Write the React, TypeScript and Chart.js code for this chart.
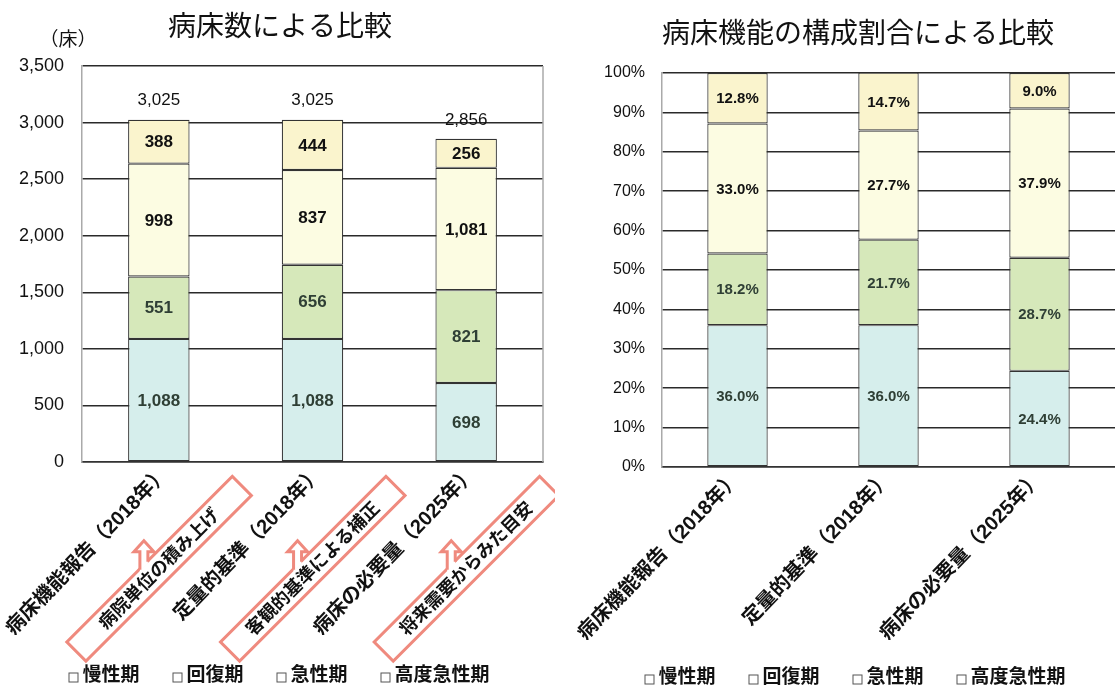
import React, { useEffect, useRef } from 'react';
import { Chart, registerables } from 'chart.js';

Chart.register(...registerables);

const FONT = "'Liberation Sans', 'Noto Sans CJK JP', sans-serif";

// ---- data ----
const seriesNames = ['慢性期', '回復期', '急性期', '高度急性期'];
const seriesColors = ['#d6eeec', '#d6e8ba', '#fcfce2', '#faf4cd'];
const segLabelColors = ['#2f3f35', '#2f3f35', '#111111', '#111111'];

const bedCategories = ['病床機能報告（2018年）', '定量的基準（2018年）', '病床の必要量（2025年）'];
const bedsChronic = [1088, 1088, 698];
const bedsRecovery = [551, 656, 821];
const bedsAcute = [998, 837, 1081];
const bedsHighAcute = [388, 444, 256];
const bedCallouts = ['病院単位の積み上げ', '客観的基準による補正', '将来需要からみた目安'];

const shareCategories = ['病床機能報告（2018年）', '定量的基準（2018年）', '病床の必要量（2025年）'];
const shareChronic = [36.0, 36.0, 24.4];
const shareRecovery = [18.2, 21.7, 28.7];
const shareAcute = [33.0, 27.7, 37.9];
const shareHighAcute = [12.8, 14.7, 9.0];

const leftTitle = '病床数による比較';
const leftUnit = '（床）';
const rightTitle = '病床機能の構成割合による比較';

// ---- helpers ----
const fmtNum = (v: number) => Number(v).toLocaleString('en-US');
const fmtPct = (v: number) => Number(v).toFixed(1) + '%';

const makeDatasets = (arrays: number[][]) =>
  arrays.map((d, i) => ({
    label: seriesNames[i],
    data: d,
    backgroundColor: seriesColors[i],
    borderColor: '#333333',
    borderWidth: 1.2,
    borderSkipped: false,
    barPercentage: 0.4,
    categoryPercentage: 1,
    stack: 's',
  }));

const segmentLabelsPlugin = (fmt: (v: number) => string, font: string) => ({
  id: 'segLabels',
  afterDatasetsDraw(chart: any) {
    const ctx = chart.ctx;
    ctx.save();
    ctx.textAlign = 'center';
    ctx.textBaseline = 'middle';
    ctx.font = font;
    chart.data.datasets.forEach((ds: any, di: number) => {
      const meta = chart.getDatasetMeta(di);
      meta.data.forEach((bar: any, j: number) => {
        const p = bar.getProps(['x', 'y', 'base'], true);
        ctx.fillStyle = segLabelColors[di];
        ctx.fillText(fmt(ds.data[j]), p.x, (p.y + p.base) / 2 + 1);
      });
    });
    ctx.restore();
  },
});

const totalsPlugin = {
  id: 'totals',
  afterDatasetsDraw(chart: any) {
    const ctx = chart.ctx;
    const n = chart.data.datasets.length;
    const topMeta = chart.getDatasetMeta(n - 1);
    ctx.save();
    ctx.textAlign = 'center';
    ctx.textBaseline = 'middle';
    ctx.font = `17px ${FONT}`;
    ctx.fillStyle = '#111';
    topMeta.data.forEach((bar: any, j: number) => {
      let sum = 0;
      chart.data.datasets.forEach((ds: any) => (sum += ds.data[j]));
      const p = bar.getProps(['x', 'y'], true);
      ctx.fillText(fmtNum(sum), p.x, p.y - 19);
    });
    ctx.restore();
  },
};

const textPlugin = (items: { text: string; x: number; y: number; font: string }[]) => ({
  id: 'texts',
  afterDraw(chart: any) {
    const ctx = chart.ctx;
    ctx.save();
    ctx.fillStyle = '#111';
    ctx.textAlign = 'center';
    ctx.textBaseline = 'middle';
    items.forEach((it) => {
      ctx.font = it.font;
      ctx.fillText(it.text, it.x, it.y);
    });
    ctx.restore();
  },
});

const legendPlugin = (cx: number, cy: number) => ({
  id: 'legendDraw',
  afterDraw(chart: any) {
    const ctx = chart.ctx;
    ctx.save();
    ctx.font = `bold 19px ${FONT}`;
    const box = 9;
    const gapBoxText = 5;
    const gapItems = 33;
    const widths = seriesNames.map((s) => box + gapBoxText + ctx.measureText(s).width);
    const total = widths.reduce((a, b) => a + b, 0) + gapItems * (seriesNames.length - 1);
    let x = cx - total / 2;
    ctx.textBaseline = 'middle';
    ctx.textAlign = 'left';
    seriesNames.forEach((s, i) => {
      ctx.fillStyle = '#ffffff';
      ctx.fillRect(x + 0.5, cy - box / 2 + 1.5, box, box);
      ctx.strokeStyle = '#555';
      ctx.lineWidth = 1;
      ctx.strokeRect(x + 0.5, cy - box / 2 + 1.5, box, box);
      ctx.fillStyle = '#111';
      ctx.fillText(s, x + box + gapBoxText, cy);
      x += widths[i] + gapItems;
    });
    ctx.restore();
  },
});

const rightEdgePlugin = {
  id: 'rightEdge',
  afterDraw(chart: any) {
    const { ctx, chartArea } = chart;
    ctx.save();
    ctx.strokeStyle = '#aaaaaa';
    ctx.lineWidth = 1.5;
    ctx.beginPath();
    ctx.moveTo(chartArea.right, chartArea.top);
    ctx.lineTo(chartArea.right, chartArea.bottom);
    ctx.stroke();
    ctx.restore();
  },
};

const calloutPlugin = {
  id: 'callouts',
  afterDraw(chart: any) {
    const { ctx, chartArea } = chart;
    const xs = chart.scales.x;
    const ang = (45 * Math.PI) / 180;
    const cos = Math.cos(ang);
    const sin = Math.sin(ang);
    const h = 27;
    const L = 234;
    ctx.save();
    ctx.font = `bold 18px ${FONT}`;
    bedCallouts.forEach((txt, i) => {
      const ax = xs.getPixelForValue(i) + 83;
      const ay = chartArea.bottom + 24;
      const toS = (lx: number, ly: number) => [ax + lx * cos + ly * sin, ay - lx * sin + ly * cos];
      ctx.save();
      ctx.translate(ax, ay);
      ctx.rotate(-ang);
      ctx.fillStyle = '#ffffff';
      ctx.fillRect(-L, -h / 2, L, h);
      ctx.strokeStyle = '#ef8a7e';
      ctx.lineWidth = 3;
      ctx.strokeRect(-L, -h / 2, L, h);
      ctx.restore();
      // arrow pointing up from the upper edge
      const [bx, by] = toS(-125, -h / 2);
      const sw = 4;
      const hw = 10;
      const t = Math.tan(ang);
      const shaftTop = by - 13;
      const tipY = by - 24;
      ctx.beginPath();
      ctx.moveTo(bx - sw, by + sw * t + 3);
      ctx.lineTo(bx - sw, shaftTop);
      ctx.lineTo(bx - hw, shaftTop);
      ctx.lineTo(bx, tipY);
      ctx.lineTo(bx + hw, shaftTop);
      ctx.lineTo(bx + sw, shaftTop);
      ctx.lineTo(bx + sw, by - sw * t + 3);
      ctx.closePath();
      ctx.fillStyle = '#ffffff';
      ctx.fill();
      ctx.beginPath();
      ctx.moveTo(bx - sw, by + sw * t + 1);
      ctx.lineTo(bx - sw, shaftTop);
      ctx.lineTo(bx - hw, shaftTop);
      ctx.lineTo(bx, tipY);
      ctx.lineTo(bx + hw, shaftTop);
      ctx.lineTo(bx + sw, shaftTop);
      ctx.lineTo(bx + sw, by - sw * t + 1);
      ctx.strokeStyle = '#ef8a7e';
      ctx.lineWidth = 3;
      ctx.lineJoin = 'miter';
      ctx.stroke();
      // text
      ctx.save();
      ctx.translate(ax, ay);
      ctx.rotate(-ang);
      ctx.fillStyle = '#111';
      ctx.textAlign = 'center';
      ctx.textBaseline = 'middle';
      ctx.fillText(txt, -L / 2, 1);
      ctx.restore();
    });
    ctx.restore();
  },
};

const xTicks = (offset: number) => ({
  color: '#111',
  font: { family: FONT, size: 20, weight: 'bold' as const },
  minRotation: 46,
  maxRotation: 46,
  autoSkip: false,
  padding: 0,
  labelOffset: offset,
});

const xFit = (height: number) => (s: any) => {
  s.height = height;
  s.paddingLeft = 0;
  s.paddingRight = 0;
};

function leftConfig(): any {
  return {
    type: 'bar',
    data: {
      labels: bedCategories,
      datasets: makeDatasets([bedsChronic, bedsRecovery, bedsAcute, bedsHighAcute]),
    },
    options: {
      animation: false,
      responsive: true,
      maintainAspectRatio: false,
      layout: { padding: { top: 66, right: 12, left: 0, bottom: 0 } },
      plugins: { legend: { display: false }, tooltip: { enabled: false }, title: { display: false } },
      scales: {
        x: {
          stacked: true,
          grid: { display: false, drawTicks: false },
          border: { display: true, color: '#333', width: 1.5 },
          ticks: xTicks(7),
          afterFit: xFit(233),
        },
        y: {
          stacked: true,
          min: 0,
          max: 3500,
          ticks: {
            stepSize: 500,
            color: '#111',
            font: { family: FONT, size: 18 },
            padding: 18,
            callback: (v: any) => fmtNum(v),
          },
          grid: { color: '#2a2a2a', lineWidth: 1.5, drawTicks: false },
          border: { color: '#aaaaaa', width: 1.5 },
          afterFit: (s: any) => {
            s.width = 82;
          },
        },
      },
    },
    plugins: [
      segmentLabelsPlugin(fmtNum, `bold 17px ${FONT}`),
      totalsPlugin,
      rightEdgePlugin,
      calloutPlugin,
      textPlugin([
        { text: leftTitle, x: 280, y: 28, font: `28px ${FONT}` },
        { text: leftUnit, x: 68, y: 41, font: `19px ${FONT}` },
      ]),
      legendPlugin(279, 676),
    ],
  };
}

function rightConfig(): any {
  return {
    type: 'bar',
    data: {
      labels: shareCategories,
      datasets: makeDatasets([shareChronic, shareRecovery, shareAcute, shareHighAcute]),
    },
    options: {
      animation: false,
      responsive: true,
      maintainAspectRatio: false,
      layout: { padding: { top: 73, right: 0, left: 0, bottom: 0 } },
      plugins: { legend: { display: false }, tooltip: { enabled: false }, title: { display: false } },
      scales: {
        x: {
          stacked: true,
          grid: { display: false, drawTicks: false },
          border: { display: true, color: '#333', width: 1.5 },
          ticks: xTicks(0),
          afterFit: xFit(228),
        },
        y: {
          stacked: true,
          min: 0,
          max: 100,
          ticks: {
            stepSize: 10,
            color: '#111',
            font: { family: FONT, size: 16 },
            padding: 17,
            callback: (v: any) => v + '%',
          },
          grid: { color: '#2a2a2a', lineWidth: 1.5, drawTicks: false },
          border: { color: '#aaaaaa', width: 1.5 },
          afterFit: (s: any) => {
            s.width = 107;
          },
        },
      },
    },
    plugins: [
      segmentLabelsPlugin(fmtPct, `bold 15px ${FONT}`),
      textPlugin([{ text: rightTitle, x: 303, y: 35, font: `28px ${FONT}` }]),
      legendPlugin(300, 678),
    ],
  };
}

export default function App() {
  const leftRef = useRef<HTMLCanvasElement>(null);
  const rightRef = useRef<HTMLCanvasElement>(null);
  useEffect(() => {
    const l = new Chart(leftRef.current as HTMLCanvasElement, leftConfig());
    const r = new Chart(rightRef.current as HTMLCanvasElement, rightConfig());
    return () => {
      l.destroy();
      r.destroy();
    };
  }, []);
  return (
    <div style={{ position: 'absolute', left: 0, top: 0, width: 1115, height: 695, background: '#fff', overflow: 'hidden' }}>
      <div style={{ position: 'absolute', left: 0, top: 0, width: 555, height: 695 }}>
        <canvas ref={leftRef} />
      </div>
      <div style={{ position: 'absolute', left: 555, top: 0, width: 560, height: 695 }}>
        <canvas ref={rightRef} />
      </div>
    </div>
  );
}
